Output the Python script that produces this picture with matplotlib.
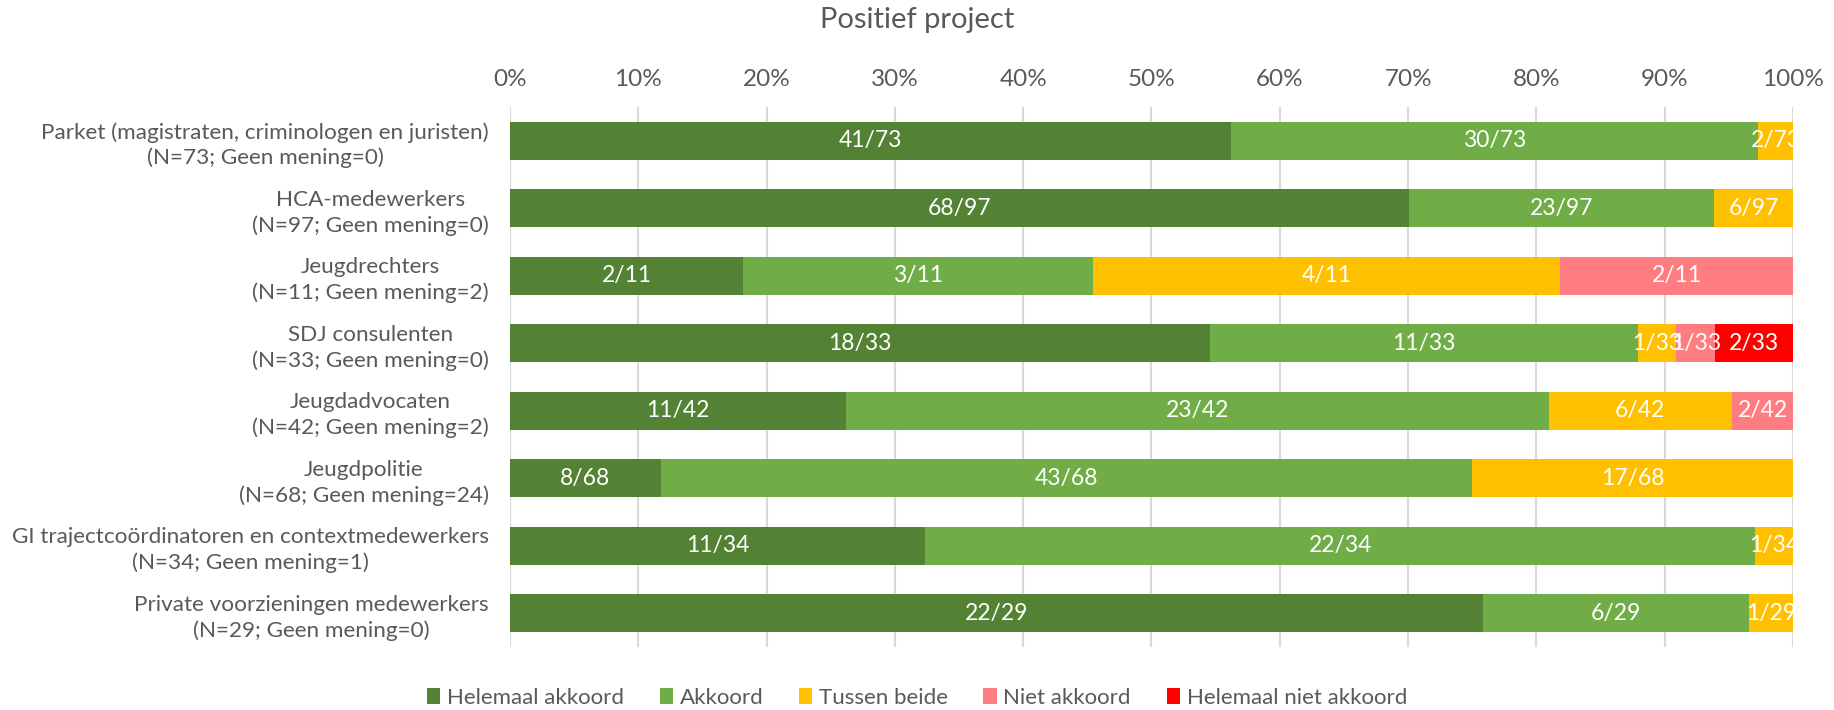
import matplotlib
matplotlib.use('Agg')
import matplotlib.pyplot as plt
from matplotlib.ticker import PercentFormatter
import numpy as np

# Data (counts per answer category)
groups = [
    'Parket (magistraten, criminologen en juristen)\n(N=73; Geen mening=0)',
    'HCA-medewerkers\n(N=97; Geen mening=0)',
    'Jeugdrechters\n(N=11; Geen mening=2)',
    'SDJ consulenten\n(N=33; Geen mening=0)',
    'Jeugdadvocaten\n(N=42; Geen mening=2)',
    'Jeugdpolitie\n(N=68; Geen mening=24)',
    'GI trajectcoördinatoren en contextmedewerkers\n(N=34; Geen mening=1)',
    'Private voorzieningen medewerkers\n(N=29; Geen mening=0)',
]
totals = [73, 97, 11, 33, 42, 68, 34, 29]
helemaal_akkoord = [41, 68, 2, 18, 11, 8, 11, 22]
akkoord = [30, 23, 3, 11, 23, 43, 22, 6]
tussen_beide = [2, 6, 4, 1, 6, 17, 1, 1]
niet_akkoord = [0, 0, 2, 1, 2, 0, 0, 0]
helemaal_niet = [0, 0, 0, 2, 0, 0, 0, 0]

series_names = ['Helemaal akkoord', 'Akkoord', 'Tussen beide', 'Niet akkoord', 'Helemaal niet akkoord']
series = [helemaal_akkoord, akkoord, tussen_beide, niet_akkoord, helemaal_niet]
colors = ['#548235', '#70AD47', '#FFC000', '#FF7C80', '#FF0000']

plt.rcParams['font.family'] = ['Lato', 'DejaVu Sans']
grey = '#595959'

fig = plt.figure(figsize=(18.34, 7.10), dpi=100)
ax = fig.add_axes([0.278, 0.0887, 0.6997, 0.7606])

y = np.arange(len(groups))
tot = np.array(totals, dtype=float)
left = np.zeros(len(groups))
for name, vals, col in zip(series_names, series, colors):
    vals = np.array(vals, dtype=float)
    share = vals / tot
    ax.barh(y, share, left=left, height=0.56, color=col, label=name, zorder=2)
    for i, v in enumerate(vals):
        if v > 0:
            ax.text(left[i] + share[i] / 2, y[i], f'{int(v)}/{totals[i]}',
                    ha='center', va='center', color='white', fontsize=16.5, zorder=3)
    left += share

ax.set_xlim(0, 1)
ax.set_ylim(len(groups) - 0.5, -0.5)
ax.set_yticks(y)
ax.set_yticklabels(groups, fontsize=16.2, color=grey, linespacing=1.3,
                   multialignment='center')
ax.xaxis.tick_top()
ax.set_xticks(np.arange(0, 1.01, 0.1))
ax.xaxis.set_major_formatter(PercentFormatter(1.0, decimals=0))
ax.tick_params(axis='x', labelsize=17.5, labelcolor=grey, length=0, pad=12)
ax.tick_params(axis='y', length=0, pad=15)
ax.grid(axis='x', color='#D9D9D9', linewidth=1.5, zorder=0)
for s in ax.spines.values():
    s.set_visible(False)

fig.suptitle('Positief project', fontsize=21, color=grey, x=0.5, y=0.99)

handles, labels = ax.get_legend_handles_labels()
fig.legend(handles, labels, loc='center', bbox_to_anchor=(0.5, 0.017), ncol=5,
           frameon=False, fontsize=16, labelcolor=grey, handlelength=0.6,
           handleheight=0.75, handletextpad=0.3, columnspacing=1.6)

plt.savefig('out.png', dpi=100)
